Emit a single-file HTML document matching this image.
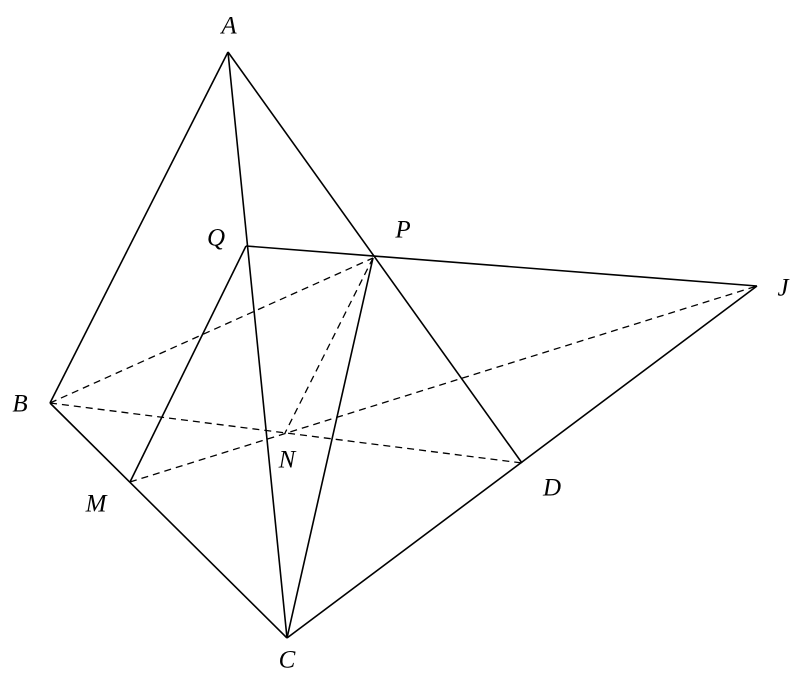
<!DOCTYPE html>
<html><head><style>body{margin:0;background:#fff}svg{display:block}text{font-family:"Liberation Serif",serif;font-style:italic;font-size:25px;text-anchor:middle;dominant-baseline:middle}</style></head>
<body>
<svg width="803" height="688" viewBox="0 0 803 688">
<g stroke="#000" stroke-width="1.6" fill="none">
<line x1="228" y1="52" x2="50" y2="403"/>
<line x1="228" y1="52" x2="287" y2="638"/>
<line x1="228" y1="52" x2="522" y2="463"/>
<line x1="50" y1="403" x2="287" y2="638"/>
<line x1="287" y1="638" x2="757" y2="286"/>
<line x1="246" y1="246" x2="757" y2="286"/>
<line x1="246" y1="246" x2="130" y2="482"/>
<line x1="373" y1="258" x2="287" y2="638"/>
</g>
<g stroke="#000" stroke-width="1.3" fill="none" stroke-dasharray="7,5">
<line x1="50" y1="403" x2="373" y2="258"/>
<line x1="50" y1="403" x2="522" y2="463"/>
<line x1="130" y1="482" x2="757" y2="286"/>
<line x1="373" y1="258" x2="285" y2="433"/>
</g>
<text x="229" y="28">A</text>
<text x="20" y="406">B</text>
<text x="287" y="662">C</text>
<text x="552" y="490">D</text>
<text x="783" y="290">J</text>
<text x="403" y="232">P</text>
<text x="216" y="240">Q</text>
<text x="96" y="506">M</text>
<text x="287" y="462">N</text>
</svg>
</body></html>
